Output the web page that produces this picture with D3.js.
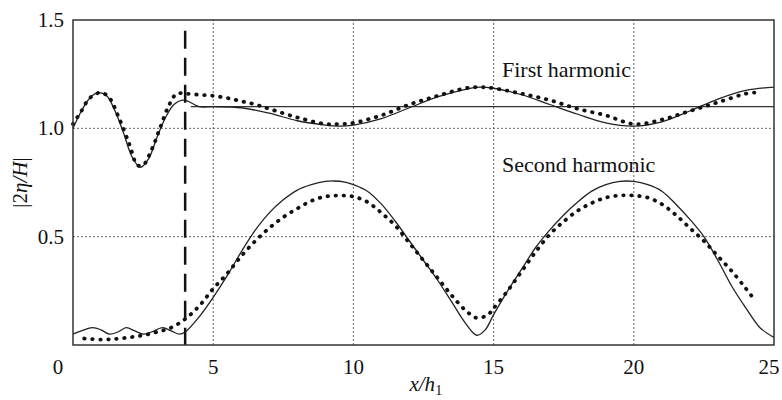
<!DOCTYPE html>
<html>
<head>
<meta charset="utf-8">
<script src="https://cdn.jsdelivr.net/npm/d3@7"></script>
</head>
<body style="margin:0">
<script>
const width = 782;
const height = 400;
const margin = { top: 20, right: 8, bottom: 55, left: 73 };
const fontName = "Liberation Serif";

// first harmonic, computed (solid)
const firstSolidX = [0, 0.3, 0.6, 0.9, 1.2, 1.5, 1.8, 2.1, 2.4, 2.7, 3.0, 3.3, 3.6, 3.9, 4.1, 4.5, 5, 6, 7, 8, 9, 9.5, 10, 11, 12, 13, 14, 14.5, 15, 16, 17, 18, 19, 20, 21, 22, 23, 24, 25];
const firstSolidY = [1.0, 1.08, 1.14, 1.165, 1.15, 1.08, 0.98, 0.87, 0.82, 0.86, 0.96, 1.05, 1.11, 1.13, 1.125, 1.10, 1.10, 1.095, 1.07, 1.035, 1.015, 1.01, 1.015, 1.045, 1.095, 1.145, 1.18, 1.19, 1.185, 1.155, 1.11, 1.065, 1.025, 1.01, 1.03, 1.08, 1.135, 1.175, 1.19];

// first harmonic, measured (dotted)
const firstDotX = [0, 0.3, 0.6, 1.0, 1.3, 1.6, 2.0, 2.3, 2.5, 2.8, 3.1, 3.4, 3.7, 4.0, 4.5, 5, 5.5, 6, 6.5, 7, 8, 9, 9.5, 10, 11, 12, 13, 14, 14.5, 15, 16, 17, 18, 19, 20, 21, 22, 23, 24, 24.3];
const firstDotY = [1.02, 1.08, 1.14, 1.165, 1.14, 1.06, 0.93, 0.83, 0.83, 0.9, 1.0, 1.1, 1.16, 1.16, 1.155, 1.15, 1.14, 1.125, 1.11, 1.09, 1.05, 1.02, 1.02, 1.025, 1.06, 1.11, 1.15, 1.185, 1.19, 1.185, 1.16, 1.13, 1.09, 1.06, 1.02, 1.04, 1.08, 1.12, 1.16, 1.165];

// second harmonic, computed (solid)
const secondSolidX = [0, 0.3, 0.7, 1.0, 1.3, 1.6, 1.9, 2.2, 2.5, 2.8, 3.2, 3.5, 3.8, 4.0, 4.5, 5, 5.5, 6, 6.5, 7, 7.5, 8, 8.5, 9, 9.3, 9.7, 10, 10.5, 11, 11.5, 12, 12.5, 13, 13.5, 14, 14.4, 14.7, 15, 15.5, 16, 16.5, 17, 17.5, 18, 18.5, 19, 19.5, 20, 20.5, 21, 21.5, 22, 22.5, 23, 23.5, 24, 24.5, 25];
const secondSolidY = [0.05, 0.065, 0.08, 0.07, 0.05, 0.06, 0.08, 0.065, 0.05, 0.06, 0.08, 0.065, 0.05, 0.06, 0.13, 0.22, 0.32, 0.43, 0.53, 0.61, 0.67, 0.715, 0.74, 0.755, 0.757, 0.752, 0.74, 0.71, 0.65, 0.57, 0.48, 0.39, 0.3, 0.2, 0.1, 0.045, 0.07, 0.14, 0.25, 0.35, 0.45, 0.53, 0.6, 0.66, 0.71, 0.74, 0.755, 0.755, 0.74, 0.71, 0.65, 0.58, 0.5, 0.39, 0.27, 0.17, 0.08, 0.035];

// second harmonic, measured (dotted)
const secondDotX = [0.4, 1, 1.5, 2, 2.5, 3, 3.5, 4, 4.5, 5, 5.5, 6, 6.5, 7, 7.5, 8, 8.5, 9, 9.5, 10, 10.5, 11, 11.5, 12, 12.5, 13, 13.5, 14, 14.4, 14.8, 15, 15.5, 16, 16.5, 17, 17.5, 18, 18.5, 19, 19.5, 20, 20.5, 21, 21.5, 22, 22.5, 23, 23.5, 24, 24.3];
const secondDotY = [0.03, 0.025, 0.028, 0.035, 0.045, 0.06, 0.08, 0.12, 0.18, 0.26, 0.33, 0.41, 0.48, 0.54, 0.59, 0.63, 0.665, 0.685, 0.69, 0.685, 0.66, 0.61, 0.55, 0.47, 0.39, 0.31, 0.23, 0.16, 0.125, 0.14, 0.17, 0.25, 0.34, 0.43, 0.51, 0.57, 0.62, 0.655, 0.68, 0.69, 0.69, 0.68, 0.65, 0.6, 0.54, 0.48, 0.41, 0.34, 0.26, 0.21];

// incident level and gauge position
const refLevelX = [4.2, 25];
const refLevelY = [1.1, 1.1];
const gaugeX = 4;

const xTicks = [0, 5, 10, 15, 20, 25];
const yTicks = [0.5, 1.0, 1.5];

const zip = (xs, ys) => xs.map((x, i) => [x, ys[i]]);

const svg = d3.select("body").append("svg")
  .attr("width", width)
  .attr("height", height);

const x = d3.scaleLinear().domain([0, 25]).range([margin.left, width - margin.right]);
const y = d3.scaleLinear().domain([0, 1.5]).range([height - margin.bottom, margin.top]);

// grid
svg.append("g")
  .selectAll("line")
  .data(xTicks.slice(1, -1))
  .join("line")
  .attr("x1", d => x(d)).attr("x2", d => x(d))
  .attr("y1", y(0)).attr("y2", y(1.5))
  .attr("stroke", "#666").attr("stroke-width", 1)
  .attr("stroke-dasharray", "2,2");

svg.append("g")
  .selectAll("line")
  .data(yTicks.slice(0, -1))
  .join("line")
  .attr("x1", x(0)).attr("x2", x(25))
  .attr("y1", d => y(d)).attr("y2", d => y(d))
  .attr("stroke", "#666").attr("stroke-width", 1)
  .attr("stroke-dasharray", "2,2");

// tick labels, drawn from the scales
svg.append("g")
  .selectAll("text")
  .data(xTicks)
  .join("text")
  .attr("x", d => x(d) + (d === 0 ? -15 : d === 25 ? -5 : 0))
  .attr("y", y(0) + 29)
  .attr("text-anchor", "middle")
  .attr("font-size", 21)
  .attr("fill", "#111")
  .style("font-family", d => `"${fontName}"`)
  .text(d3.format("d"));

svg.append("g")
  .selectAll("text")
  .data(yTicks)
  .join("text")
  .attr("x", x(0) - 9)
  .attr("y", d => y(d) + 7)
  .attr("text-anchor", "end")
  .attr("font-size", 21)
  .attr("fill", "#111")
  .style("font-family", d => `"${fontName}"`)
  .text(d3.format(".1f"));

const line = d3.line()
  .x(d => x(d[0]))
  .y(d => y(d[1]))
  .curve(d3.curveCatmullRom);

// reference level
svg.append("path")
  .attr("d", d3.line().x(d => x(d[0])).y(d => y(d[1]))(zip(refLevelX, refLevelY)))
  .attr("fill", "none").attr("stroke", "#333").attr("stroke-width", 1.3);

// solid curves
[zip(firstSolidX, firstSolidY), zip(secondSolidX, secondSolidY)].forEach(pts => {
  svg.append("path")
    .attr("d", line(pts))
    .attr("fill", "none")
    .attr("stroke", "#222")
    .attr("stroke-width", 1.3);
});

// dotted curves
[zip(firstDotX, firstDotY), zip(secondDotX, secondDotY)].forEach(pts => {
  svg.append("path")
    .attr("d", line(pts))
    .attr("fill", "none")
    .attr("stroke", "#111")
    .attr("stroke-width", 3.8)
    .attr("stroke-linecap", "round")
    .attr("stroke-dasharray", "0.5,7.5");
});

// gauge line
svg.append("line")
  .attr("x1", x(gaugeX)).attr("x2", x(gaugeX))
  .attr("y1", y(1.45)).attr("y2", y(0))
  .attr("stroke", "#111").attr("stroke-width", 2.5)
  .attr("stroke-dasharray", "18,9");

// frame
svg.append("rect")
  .attr("x", x(0)).attr("y", y(1.5))
  .attr("width", x(25) - x(0)).attr("height", y(0) - y(1.5))
  .attr("fill", "none").attr("stroke", "#333").attr("stroke-width", 1.5);

// annotations
const notes = [
  { label: "First harmonic", at: 1.235 },
  { label: "Second harmonic", at: 0.8 }
];
svg.append("g")
  .selectAll("text")
  .data(notes)
  .join("text")
  .attr("x", x(15.3))
  .attr("y", d => y(d.at))
  .attr("font-size", 22)
  .attr("fill", "#111")
  .style("font-family", d => `"${fontName}"`)
  .text(d => d.label);

// axis titles
const xt = svg.append("text")
  .attr("x", x(12.0)).attr("y", 391)
  .attr("font-size", 21)
  .attr("font-style", "italic").attr("fill", "#111")
  .style("font-family", `"${fontName}"`);
xt.append("tspan").text("x/h");
xt.append("tspan").attr("font-size", 14).attr("font-style", "normal").attr("dy", 4).text("1");

const yt = svg.append("text")
  .attr("transform", `translate(27,${y(0.75)}) rotate(-90)`)
  .attr("text-anchor", "middle")
  .attr("font-size", 21)
  .attr("fill", "#111")
  .style("font-family", `"${fontName}"`);
yt.append("tspan").text("|2");
yt.append("tspan").attr("font-style", "italic").text("\u03b7/H");
yt.append("tspan").text("|");
</script>
</body>
</html>
